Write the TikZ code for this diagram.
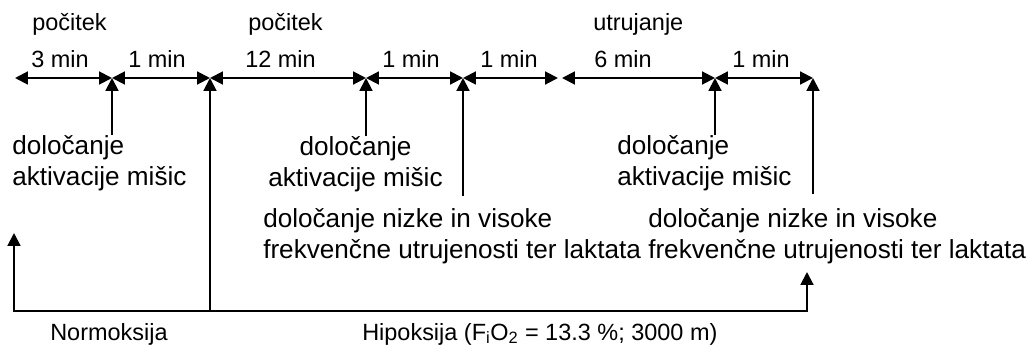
\documentclass[tikz,border=0pt]{standalone}
\usepackage{fontspec}
\setmainfont{Liberation Sans}
\usetikzlibrary{arrows.meta,calc}

\tikzset{
  tip/.tip={Triangle[length=9.6pt,width=9.6pt]},
  span/.style={line width=1.5pt,tip-tip},
  riser/.style={line width=1.5pt,-tip},
  plain/.style={line width=1.5pt},
  lbl/.style={font=\fontsize{17.6}{21}\selectfont,inner sep=0pt},
  main/.style={font=\fontsize{19.6}{23.25}\selectfont,inner sep=0pt},
}

\begin{document}
\begin{tikzpicture}[x=0.75pt,y=-0.75pt]
\useasboundingbox (0,0) rectangle (1032,347);

% time axis points
\coordinate (t0) at (15,78);
\coordinate (t1) at (112,78);
\coordinate (t2) at (210,78);
\coordinate (t3) at (366,78);
\coordinate (t4) at (463,78);
\coordinate (t5a) at (558,78);
\coordinate (t5b) at (562,78);
\coordinate (t6) at (715,78);
\coordinate (t7) at (813,78);

% phase labels
\node[lbl,anchor=base west] (rest1) at (32,30) {počitek};
\node[lbl,anchor=base west] (rest2) at (248,30) {počitek};
\node[lbl,anchor=base west] (fatigue) at (593,30) {utrujanje};

% duration labels
\node[lbl,anchor=base west] (d1) at (31,67) {3 min};
\node[lbl,anchor=base west] (d2) at (128,67) {1 min};
\node[lbl,anchor=base west] (d3) at (245,67) {12 min};
\node[lbl,anchor=base west] (d4) at (382,67) {1 min};
\node[lbl,anchor=base west] (d5) at (480,67) {1 min};
\node[lbl,anchor=base west] (d6) at (594,67) {6 min};
\node[lbl,anchor=base west] (d7) at (732,67) {1 min};

% duration arrows
\draw[span] (t0) -- (t1);
\draw[span] (t1) -- (t2);
\draw[span] (t2) -- (t3);
\draw[span] (t3) -- (t4);
\draw[span] (t4) -- (t5a);
\draw[span] (t5b) -- (t6);
\draw[span] (t6) -- (t7);

% measurements
\node[main,anchor=north west,align=left] (act1) at (12,135) {določanje\\aktivacije mišic};
\node[main,anchor=north,align=center] (act2) at (355.5,136) {določanje\\aktivacije mišic};
\node[main,anchor=north west,align=left] (act3) at (617,135) {določanje\\aktivacije mišic};
\node[main,anchor=north west,align=left] (freq1) at (263,208) {določanje nizke in visoke\\frekvenčne utrujenosti ter laktata};
\node[main,anchor=north west,align=left] (freq2) at (648,208) {določanje nizke in visoke\\frekvenčne utrujenosti ter laktata};

\draw[riser] (act1.north -| t1) -- (t1);
\draw[riser] (act2.north -| t3) -- (t3);
\draw[riser] (act3.north -| t6) -- (t6);
\draw[riser] ($(freq1.north -| t4)+(0,-12)$) -- (t4);
\draw[riser] ($(freq2.north -| t7)+(0,-14)$) -- (t7);

% conditions
\coordinate (b0) at (14,311);
\coordinate (b1) at (210,311);
\coordinate (b2) at (807,311);
\coordinate (n0) at (14,233);
\coordinate (h0) at (807,272);

\draw[riser] (b1) -- (t2);
\draw[plain,tip-tip] (n0) -- (b0) -- (b2) -- (h0);

\node[lbl,anchor=base west] (normo) at (50,340) {Normoksija};
\node[lbl,anchor=base west] (hipo) at (362,340) {Hipoksija (F\textsubscript{i}O\textsubscript{2} = 13.3 \%; 3000 m)};
\end{tikzpicture}
\end{document}
